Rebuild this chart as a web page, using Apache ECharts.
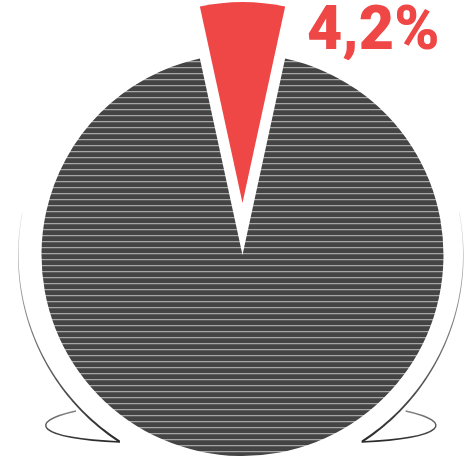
<!DOCTYPE html>
<html>
<head>
<meta charset="utf-8">
<script src="https://cdn.jsdelivr.net/npm/echarts@6/dist/echarts.min.js"></script>
<style>
html,body{margin:0;padding:0;background:#fff;}
#chart{width:475px;height:459px;}
</style>
</head>
<body>
<div id="chart"></div>
<script>
// ---- data ----
const categories = ['Share', 'Rest'];
const values = [4.2, 95.8];
const highlightIndex = 0;

// ---- styles ----
const RED = '#ef4646';
const CX = 242.5, CY = 255, R = 201;

function makeStripes() {
  const c = document.createElement('canvas');
  c.width = 6; c.height = 6;
  const g = c.getContext('2d');
  g.fillStyle = '#444444';
  g.fillRect(0, 0, 6, 6);
  g.fillStyle = '#a6a6a6';
  g.fillRect(0, 1, 6, 1);
  g.fillStyle = '#5c5c5c';
  g.fillRect(0, 2, 6, 1);
  return c;
}
const stripes = { image: makeStripes(), repeat: 'repeat' };

// decorative tapered arcs (the "bowl" outline)
const DCX = 240.8, DCY = 255, DR = 222.5;
function taperArc(a0, a1) {
  const n = 60, outer = [], inner = [];
  for (let i = 0; i <= n; i++) {
    const t = i / n;
    const a = (a0 + (a1 - a0) * t) * Math.PI / 180;
    const w = 0.3 + 1.9 * t;
    outer.push([DCX + (DR + w / 2) * Math.cos(a), DCY + (DR + w / 2) * Math.sin(a)]);
    inner.push([DCX + (DR - w / 2) * Math.cos(a), DCY + (DR - w / 2) * Math.sin(a)]);
  }
  return outer.concat(inner.reverse());
}
const grad = (c0, c1) => new echarts.graphic.LinearGradient(0, 0, 0, 1, [
  { offset: 0, color: c0 }, { offset: 1, color: c1 }
]);

const chart = echarts.init(document.getElementById('chart'), null, { renderer: 'canvas' });
const labelText = values[highlightIndex].toString().replace('.', ',') + '%';

chart.setOption({
  animation: false,
  backgroundColor: '#ffffff',
  title: {
    text: labelText,
    left: 307, top: 3, padding: 0,
    textStyle: { color: RED, fontFamily: 'Roboto', fontWeight: 900, fontSize: 61 }
  },
  graphic: [
    { type: 'polygon', silent: true, z: -1, shape: { points: taperArc(191, 123) },
      style: { fill: grad('#d0d0d0', '#2a2a2a') } },
    { type: 'polygon', silent: true, z: -1, shape: { points: taperArc(-11, 57) },
      style: { fill: grad('#d0d0d0', '#2a2a2a') } },
    { type: 'bezierCurve', silent: true, z: -1,
      shape: { x1: 76, y1: 411, cpx1: 26, cpy1: 422, cpx2: 36, cpy2: 438, x2: 120, y2: 442 },
      style: { stroke: grad('#8a8a8a', '#222222'), lineWidth: 1.5, fill: null } },
    { type: 'bezierCurve', silent: true, z: -1,
      shape: { x1: 2 * DCX - 76, y1: 411, cpx1: 2 * DCX - 26, cpy1: 422, cpx2: 2 * DCX - 36, cpy2: 438, x2: 2 * DCX - 120, y2: 442 },
      style: { stroke: grad('#8a8a8a', '#222222'), lineWidth: 1.5, fill: null } }
  ],
  series: [{
    type: 'pie',
    center: [CX, CY],
    radius: R,
    startAngle: 90 + 12.25,
    minAngle: 24.5,
    clockwise: true,
    selectedMode: 'single',
    selectedOffset: 52,
    label: { show: false },
    labelLine: { show: false },
    emphasis: { disabled: true },
    itemStyle: { borderWidth: 0 },
    select: { itemStyle: { borderWidth: 0 } },
    data: categories.map((name, i) => ({
      name,
      value: values[i],
      selected: i === highlightIndex,
      itemStyle: { color: i === highlightIndex ? RED : stripes, borderWidth: 0 }
    }))
  }]
});
</script>
</body>
</html>
